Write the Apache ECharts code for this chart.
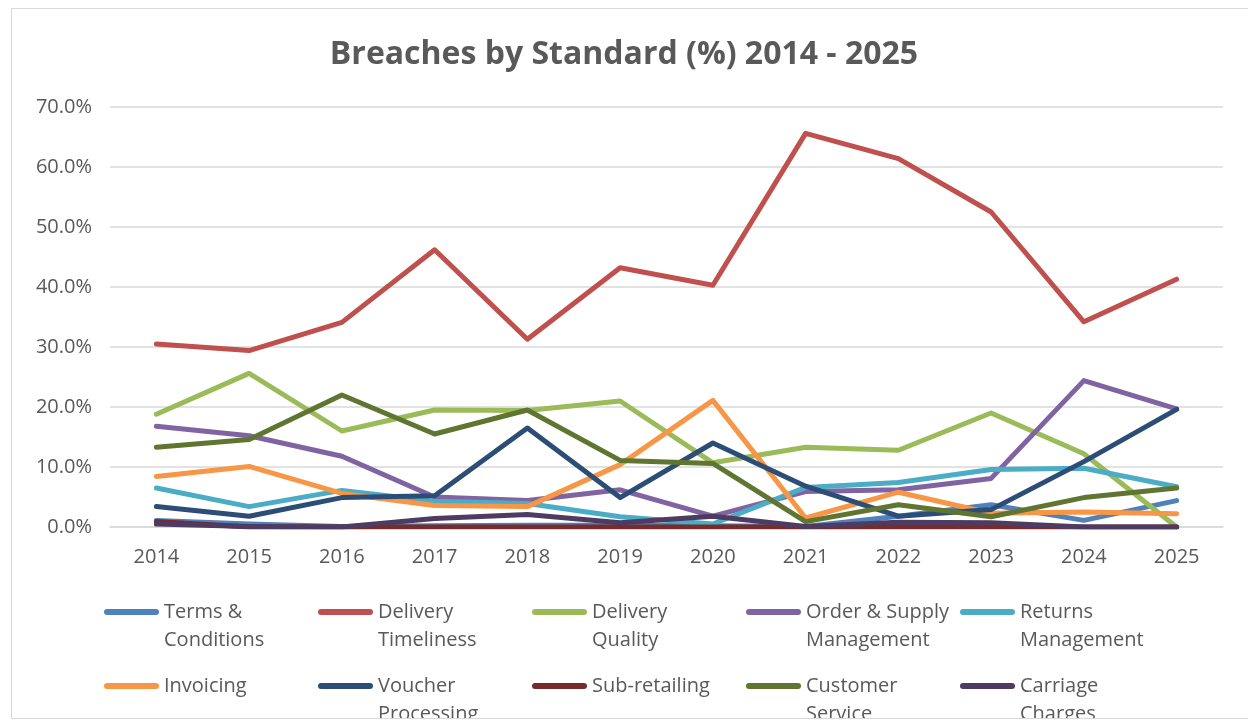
<!DOCTYPE html>
<html>
<head>
<meta charset="UTF-8">
<title>Breaches by Standard</title>
<script src="https://cdn.jsdelivr.net/npm/echarts@6/dist/echarts.min.js"></script>
<style>
  body { margin: 0; background: #fff; }
  #frame { position: absolute; left: 11px; top: 8px; width: 1300px; height: 709px;
           border: 1px solid #d9d9d9; overflow: hidden; }
  #main { position: absolute; left: -12px; top: -9px; width: 1248px; height: 721px; }
</style>
</head>
<body>
<div id="frame"><div id="main"></div></div>
<script type="text/javascript">
// 年份
var years = ['2014','2015','2016','2017','2018','2019','2020','2021','2022','2023','2024','2025'];
var yTicks = [0, 10, 20, 30, 40, 50, 60, 70];

// 各标准所占百分比
var termsConditions    = [1.1, 0.5, 0.1, 0.2, 0.3, 0.3, 0.2, 0.1, 1.8, 3.7, 1.1, 4.4];
var deliveryTimeliness = [30.5, 29.4, 34.1, 46.2, 31.3, 43.2, 40.3, 65.6, 61.4, 52.5, 34.2, 41.3];
var deliveryQuality    = [18.8, 25.6, 16.0, 19.5, 19.4, 21.0, 10.7, 13.3, 12.8, 19.0, 12.2, 0];
var orderSupply        = [16.8, 15.2, 11.8, 5.0, 4.4, 6.2, 1.8, 5.9, 6.2, 8.1, 24.4, 19.7];
var returnsMgmt        = [6.5, 3.4, 6.1, 4.3, 3.9, 1.7, 0.5, 6.6, 7.4, 9.6, 9.8, 6.7];
var invoicing          = [8.4, 10.1, 5.6, 3.6, 3.4, 10.4, 21.1, 1.5, 5.8, 2.3, 2.5, 2.2];
var voucherProcessing  = [3.4, 1.8, 4.9, 5.2, 16.5, 4.9, 14.0, 6.8, 1.8, 2.9, 10.9, 19.6];
var subRetailing       = [0.9, 0, 0, 0, 0, 0, 0, 0, 0, 0, 0, 0];
var customerService    = [13.3, 14.6, 22.0, 15.5, 19.5, 11.1, 10.6, 0.9, 3.7, 1.7, 4.9, 6.5];
var carriageCharges    = [0.5, 0.1, 0, 1.4, 2.1, 0.7, 1.8, 0.1, 0.8, 0.7, 0, 0];

var seriesNames = ['Terms & Conditions', 'Delivery Timeliness', 'Delivery Quality', 'Order & Supply Management',
                   'Returns Management', 'Invoicing', 'Voucher Processing', 'Sub-retailing', 'Customer Service', 'Carriage Charges'];
var legendLabels = ['Terms &\nConditions', 'Delivery\nTimeliness', 'Delivery\nQuality', 'Order & Supply\nManagement',
                    'Returns\nManagement', 'Invoicing\n ', 'Voucher\nProcessing', 'Sub-retailing\n ', 'Customer\nService', 'Carriage\nCharges'];
var seriesData = [termsConditions, deliveryTimeliness, deliveryQuality, orderSupply, returnsMgmt,
                  invoicing, voucherProcessing, subRetailing, customerService, carriageCharges];
var colors = ['#4f81bd', '#c0504d', '#9bbb59', '#8064a2', '#4bacc6',
              '#f79646', '#2c4d75', '#772c2a', '#5f7530', '#4d3b62'];

var fontFamily = '"Open Sans", sans-serif';
var textColor = '#595959';

// 图例线条放在图标框的上部, 与第一行文字对齐
var legendIcon = 'path://M3,0h49a3,3 0 0 1 0,6h-49a3,3 0 0 1 0,-6zM0,34';

var myChart = echarts.init(document.getElementById('main'));

// 每个图例项单独放置, 5 列 2 行
var legends = seriesNames.map(function (name, i) {
    return {
        data: [name],
        left: 104 + (i % 5) * 214,
        top: 598 + Math.floor(i / 5) * 74,
        padding: 0,
        icon: legendIcon,
        itemWidth: 55,
        itemHeight: 34,
        itemGap: 0,
        selectedMode: false,
        formatter: function () { return legendLabels[i]; },
        textStyle: { color: textColor, fontSize: 20, fontFamily: fontFamily, lineHeight: 28 }
    };
});

var option = {
    animation: false,
    color: colors,
    title: {
        text: 'Breaches by Standard (%) 2014 - 2025',
        left: 'center',
        top: 34,
        textStyle: { color: textColor, fontSize: 32, fontWeight: 'bold', fontFamily: fontFamily }
    },
    legend: legends,
    grid: { left: 110, right: 25, top: 107, bottom: 194 },
    xAxis: {
        type: 'category',
        data: years,
        boundaryGap: true,
        axisLine: { lineStyle: { color: '#d9d9d9', width: 1.5 } },
        axisTick: { show: false },
        axisLabel: { color: textColor, fontSize: 20, fontFamily: fontFamily, margin: 20 }
    },
    yAxis: {
        type: 'value',
        min: yTicks[0],
        max: yTicks[yTicks.length - 1],
        interval: 10,
        axisLine: { show: false },
        axisTick: { show: false },
        splitLine: { lineStyle: { color: '#d9d9d9', width: 1.5 } },
        axisLabel: {
            color: textColor, fontSize: 20, fontFamily: fontFamily, margin: 18,
            formatter: function (v) { return v.toFixed(1) + '%'; }
        }
    },
    series: seriesNames.map(function (name, i) {
        return {
            name: name,
            type: 'line',
            data: seriesData[i],
            showSymbol: false,
            lineStyle: { width: 5, color: colors[i], cap: 'round', join: 'round' },
            itemStyle: { color: colors[i] }
        };
    })
};

myChart.setOption(option);
</script>
</body>
</html>
